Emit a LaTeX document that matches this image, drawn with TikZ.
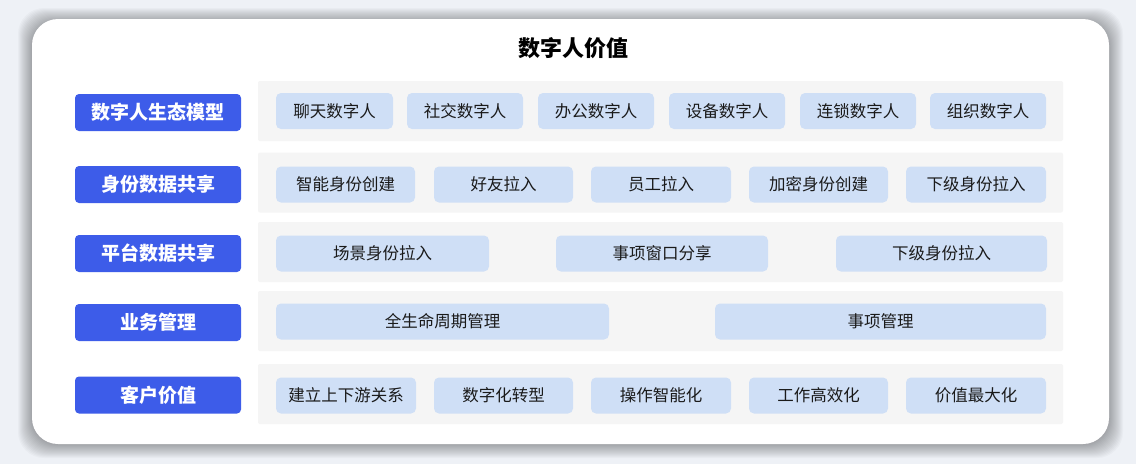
\documentclass[tikz,border=0pt]{standalone}
\usepackage{fontspec}
\setmainfont{Noto Sans CJK SC}
\usepackage{tikz}
\usetikzlibrary{positioning,backgrounds,calc}

\definecolor{pagegray}{HTML}{EEF1F6}
\definecolor{catblue}{HTML}{3D5CE9}
\definecolor{itemblue}{HTML}{CFDFF6}
\definecolor{panelgray}{HTML}{F5F5F5}
\definecolor{inkblack}{HTML}{1A1A1A}

\begin{document}
\begin{tikzpicture}[x=1pt,y=-1pt,inner sep=0pt,outer sep=0pt]

   \tikzstyle{cat}  =[fill=catblue,rounded corners=4pt,text=white,minimum width=166pt,minimum height=37pt,font=\bfseries\fontsize{19}{22}\selectfont]
   \tikzstyle{panel}=[fill=panelgray,rounded corners=2pt,minimum width=805pt,minimum height=60pt]
   \tikzstyle{item} =[fill=itemblue,rounded corners=5pt,text=inkblack,minimum height=36pt,font=\fontsize{16.5}{19}\selectfont]

   % page and card
   \fill[pagegray] (0,0) rectangle (1136,464);
   \foreach \d in {1,...,14}
      \fill[black,opacity=0.022,rounded corners=26pt] (32-\d,19-\d+3) rectangle (1109+\d,444+\d);
   \fill[white,rounded corners=26pt] (32,19) rectangle (1109,444);

   \node[font=\bfseries\fontsize{22}{25}\selectfont] (title) at (573,48) {数字人价值};

   % category labels
   \node[cat] (c1) at (158,112.5) {数字人生态模型};
   \node[cat] (c2) at (158,184.5) {身份数据共享};
   \node[cat] (c3) at (158,253.5) {平台数据共享};
   \node[cat] (c4) at (158,322.5) {业务管理};
   \node[cat] (c5) at (158,395)   {客户价值};

   % panels
   \node[panel] (p1) at (660.5,111)   {};
   \node[panel] (p2) at (660.5,182.5) {};
   \node[panel] (p3) at (660.5,252)   {};
   \node[panel] (p4) at (660.5,321)   {};
   \node[panel] (p5) at (660.5,394)   {};

   \begin{scope}[on background layer]
      \foreach \p in {p1,p2,p3,p4,p5}
         \foreach \d in {1,...,9}
            \fill[black,opacity=0.024,rounded corners=3pt]
               ($(\p.north west)+(-\d,-\d+2)$) rectangle ($(\p.south east)+(\d,\d+1)$);
   \end{scope}

   % row 1
   \node[item,minimum width=117pt] (a1) at ([xshift=18pt]p1.west) [anchor=west] {聊天数字人};
   \node[item,minimum width=116pt] (a2) [right=14pt of a1] {社交数字人};
   \node[item,minimum width=116pt] (a3) [right=15pt of a2] {办公数字人};
   \node[item,minimum width=116pt] (a4) [right=15pt of a3] {设备数字人};
   \node[item,minimum width=116pt] (a5) [right=15pt of a4] {连锁数字人};
   \node[item,minimum width=116pt] (a6) [right=14pt of a5] {组织数字人};

   % row 2
   \node[item,minimum width=139pt] (b1) at ([xshift=18pt,yshift=-2pt]p2.west) [anchor=west] {智能身份创建};
   \node[item,minimum width=139pt] (b2) [right=19pt of b1] {好友拉入};
   \node[item,minimum width=140pt] (b3) [right=18pt of b2] {员工拉入};
   \node[item,minimum width=139pt] (b4) [right=18pt of b3] {加密身份创建};
   \node[item,minimum width=140pt] (b5) [right=18pt of b4] {下级身份拉入};

   % row 3
   \node[item,minimum width=213pt] (d1) at ([xshift=18pt,yshift=-1.5pt]p3.west) [anchor=west] {场景身份拉入};
   \node[item,minimum width=212pt] (d2) [right=67pt of d1] {事项窗口分享};
   \node[item,minimum width=211pt] (d3) [right=68pt of d2] {下级身份拉入};

   % row 4
   \node[item,minimum width=333pt] (e1) at ([xshift=18pt,yshift=-0.5pt]p4.west) [anchor=west] {全生命周期管理};
   \node[item,minimum width=331pt] (e2) [right=106pt of e1] {事项管理};

   % row 5
   \node[item,minimum width=140pt] (f1) at ([xshift=18pt,yshift=-1.5pt]p5.west) [anchor=west] {建立上下游关系};
   \node[item,minimum width=139pt] (f2) [right=18pt of f1] {数字化转型};
   \node[item,minimum width=140pt] (f3) [right=18pt of f2] {操作智能化};
   \node[item,minimum width=139pt] (f4) [right=18pt of f3] {工作高效化};
   \node[item,minimum width=140pt] (f5) [right=18pt of f4] {价值最大化};

\end{tikzpicture}
\end{document}
